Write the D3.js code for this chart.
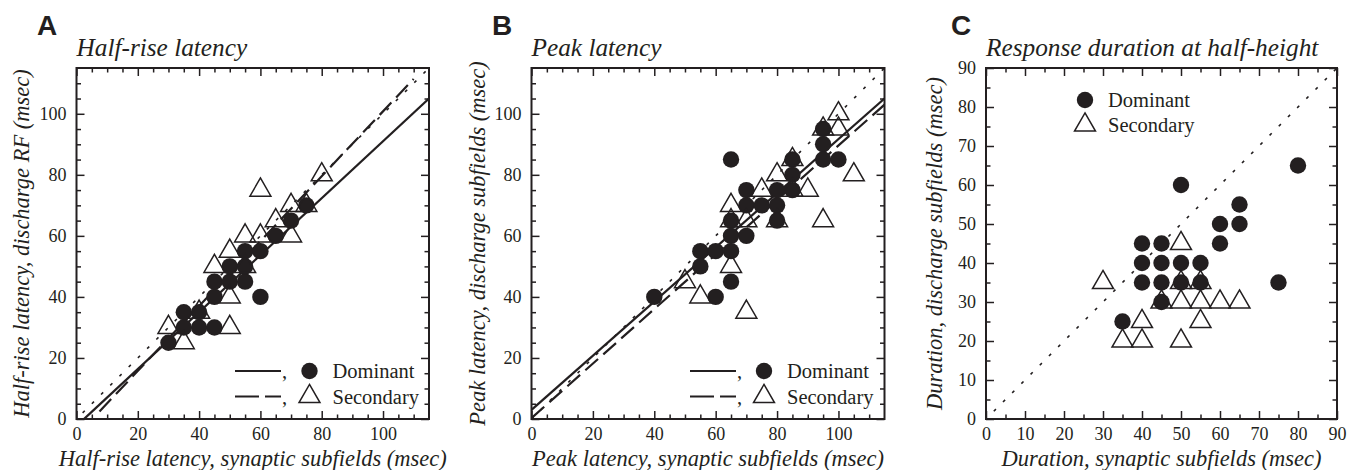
<!DOCTYPE html>
<html>
<head>
<meta charset="utf-8">
<script src="https://cdn.jsdelivr.net/npm/d3@7"></script>
<style>
  body { margin: 0; background: #fff; }
</style>
</head>
<body>
<svg id="fig" width="1348" height="470"></svg>
<script>
// ---- Data (msec): [synaptic subfields, discharge subfields] ----
const halfRiseDominant = [[30,25],[35,35],[35,30],[40,30],[40,35],[45,30],[45,40],[45,45],[50,45],[50,50],
  [55,45],[55,50],[55,55],[60,55],[60,40],[65,60],[70,65],[75,70]];
const halfRiseSecondary = [[30,30],[35,25],[40,35],[45,50],[50,40],[50,30],[50,55],[55,60],[55,50],
  [60,60],[60,75],[65,65],[70,70],[70,60],[75,70],[80,80]];
// regression fits: [slope, intercept, x start, x end]
const halfRiseFitDominant = [0.933, -2.3, 2.5, 115];
const halfRiseFitSecondary = [1.063, -5.5, 7.5, 110];

const peakDominant = [[40,40],[55,55],[55,50],[60,55],[60,40],[65,85],[65,65],[65,60],[65,55],[65,45],
  [70,75],[70,70],[70,60],[75,70],[80,75],[80,70],[80,65],[85,85],[85,80],[85,75],
  [95,95],[95,90],[95,85],[100,85]];
const peakSecondary = [[50,45],[55,40],[65,70],[65,65],[65,50],[70,65],[70,35],[75,75],[80,80],[80,65],
  [85,85],[85,75],[90,75],[95,95],[95,65],[100,100],[100,95],[105,80]];
const peakFitDominant = [0.887, 3.0, 0, 115];
const peakFitSecondary = [0.893, 0.3, 0, 115];

const durationDominant = [[35,25],[40,45],[40,40],[40,35],[45,45],[45,40],[45,35],[45,30],[50,60],[50,40],
  [50,35],[55,40],[55,35],[60,50],[60,45],[65,55],[65,50],[75,35],[80,65]];
const durationSecondary = [[30,35],[35,20],[40,25],[40,20],[45,30],[50,45],[50,35],[50,30],[50,20],
  [55,35],[55,30],[55,25],[60,30],[65,30]];

// unity line extents: [from, to]
const halfRiseUnity = [2, 115];
const peakUnity = [0, 115];
const durationUnity = [2, 90];

// axis tick labels
const latencyTicks = [0, 20, 40, 60, 80, 100];
const durationTicks = [0, 10, 20, 30, 40, 50, 60, 70, 80, 90];

const seriesNames = ["Dominant", "Secondary"];

// ---- Drawing ----
const ink = "#231f20";
const serif = "'Liberation Serif', 'Times New Roman', serif";
const sans = "'Liberation Sans', Arial, sans-serif";
const svg = d3.select("#fig");

function label(sel, size, italic) {
  return sel.style("font-family", serif).style("font-size", size + "px")
    .style("font-style", italic ? "italic" : "normal").style("fill", ink);
}

function drawPanel(p) {
  const x = d3.scaleLinear().domain([0, p.max]).range([p.left, p.right]);
  const y = d3.scaleLinear().domain([0, p.max]).range([p.bottom, p.top]);
  const g = svg.append("g");
  const minors = d3.range(0, p.max, 5).filter(v => p.ticks.indexOf(v) < 0 && v > 0);

  const clipId = "clip-" + p.letter;
  svg.append("clipPath").attr("id", clipId).append("rect")
    .attr("x", p.left).attr("y", p.top)
    .attr("width", p.right - p.left).attr("height", p.bottom - p.top);

  // axes with inward ticks on all four sides
  function axisGroup(axisFn, scale, vals, size, labels, transform, pad) {
    const a = axisFn(scale).tickValues(vals).tickSize(-size).tickSizeOuter(0)
      .tickPadding(pad).tickFormat(labels ? d3.format("d") : "");
    const ag = g.append("g").attr("transform", transform).call(a);
    ag.select(".domain").remove();
    ag.selectAll("line").attr("stroke", ink).attr("stroke-width", 1.5);
    label(ag.selectAll("text"), 18, false);
    return ag;
  }
  const tb = `translate(0,${p.bottom})`, tt = `translate(0,${p.top})`;
  const tl = `translate(${p.left},0)`, tr = `translate(${p.right},0)`;
  axisGroup(d3.axisBottom, x, p.ticks, 8, true, tb, 8);
  axisGroup(d3.axisBottom, x, minors, 4.5, false, tb, 8);
  axisGroup(d3.axisTop, x, p.ticks, 8, false, tt, 8);
  axisGroup(d3.axisTop, x, minors, 4.5, false, tt, 8);
  axisGroup(d3.axisLeft, y, p.ticks, 8, true, tl, 10);
  axisGroup(d3.axisLeft, y, minors, 4.5, false, tl, 10);
  axisGroup(d3.axisRight, y, p.ticks, 8, false, tr, 10);
  axisGroup(d3.axisRight, y, minors, 4.5, false, tr, 10);

  // frame
  g.append("rect").attr("x", p.left).attr("y", p.top)
    .attr("width", p.right - p.left).attr("height", p.bottom - p.top)
    .attr("fill", "none").attr("stroke", ink).attr("stroke-width", 2);

  const line = d3.line().x(d => x(d[0])).y(d => y(d[1]));
  const lines = g.append("g").attr("clip-path", `url(#${clipId})`);

  // unity line
  lines.append("path").attr("d", line([[p.unity[0], p.unity[0]], [p.unity[1], p.unity[1]]]))
    .attr("fill", "none").attr("stroke", ink).attr("stroke-width", 1.6)
    .attr("stroke-dasharray", "3,10");

  // regression lines
  if (p.fits) {
    p.fits.forEach((f, i) => {
      const pts = [[f[2], f[0] * f[2] + f[1]], [f[3], f[0] * f[3] + f[1]]];
      lines.append("path").attr("d", line(pts))
        .attr("fill", "none").attr("stroke", ink).attr("stroke-width", 2.2)
        .attr("stroke-dasharray", i === 0 ? null : "17,7");
    });
  }

  // points: circles then open triangles
  const tri = d3.symbol().type(d3.symbolTriangle).size(190);
  g.append("g").selectAll("circle").data(p.dom).join("circle")
    .attr("cx", d => x(d[0])).attr("cy", d => y(d[1])).attr("r", 8.2).attr("fill", ink);
  g.append("g").selectAll("path").data(p.sec).join("path")
    .attr("d", tri).attr("transform", d => `translate(${x(d[0])},${y(d[1])})`)
    .attr("fill", "none").attr("stroke", ink).attr("stroke-width", 1.5);

  // legend
  const lg = g.append("g");
  seriesNames.forEach((name, i) => {
    const ry = p.legend.y + i * p.legend.dy;
    if (p.fits) {
      lg.append("line").attr("x1", p.legend.lineX).attr("x2", p.legend.lineX + 46)
        .attr("y1", ry).attr("y2", ry).attr("stroke", ink).attr("stroke-width", 2.2)
        .attr("stroke-dasharray", i === 0 ? null : "24,6");
      label(lg.append("text").attr("x", p.legend.lineX + 47).attr("y", ry + 7), 20.5, false).text(",");
    }
    if (i === 0) {
      lg.append("circle").attr("cx", p.legend.markX).attr("cy", ry).attr("r", 8.2).attr("fill", ink);
    } else {
      lg.append("path").attr("d", tri).attr("transform", `translate(${p.legend.markX},${ry})`)
        .attr("fill", "none").attr("stroke", ink).attr("stroke-width", 1.5);
    }
    label(lg.append("text").attr("x", p.legend.markX + 23).attr("y", ry + 7), 20.5, false).text(name);
  });

  // titles
  label(g.append("text").attr("x", p.left).attr("y", 56), 25.3, true).text(p.title);
  label(g.append("text").attr("x", (p.left + p.right) / 2).attr("y", 465.5)
    .attr("text-anchor", "middle"), 22.5, true).text(p.xTitle);
  label(g.append("text")
    .attr("transform", `translate(${p.yTitleX},${(p.top + p.bottom) / 2}) rotate(-90)`)
    .attr("text-anchor", "middle"), 22.5, true).text(p.yTitle);
  g.append("text").attr("x", p.letterX).attr("y", 35)
    .style("font-family", sans).style("font-weight", "bold").style("font-size", "28px")
    .style("fill", ink).text(p.letter);
}

drawPanel({
  letter: "A", letterX: 37, left: 76.5, right: 429, top: 68, bottom: 419, max: 115,
  ticks: latencyTicks, dom: halfRiseDominant, sec: halfRiseSecondary,
  fits: [halfRiseFitDominant, halfRiseFitSecondary], unity: halfRiseUnity,
  title: "Half-rise latency",
  xTitle: "Half-rise latency, synaptic subfields (msec)",
  yTitle: "Half-rise latency, discharge RF (msec)", yTitleX: 28.5,
  legend: { lineX: 235, markX: 309.5, y: 371, dy: 25.5 }
});

drawPanel({
  letter: "B", letterX: 492, left: 531.5, right: 884.5, top: 68, bottom: 419, max: 115,
  ticks: latencyTicks, dom: peakDominant, sec: peakSecondary,
  fits: [peakFitDominant, peakFitSecondary], unity: peakUnity,
  title: "Peak latency",
  xTitle: "Peak latency, synaptic subfields (msec)",
  yTitle: "Peak latency, discharge subfields (msec)", yTitleX: 485,
  legend: { lineX: 690, markX: 764, y: 371, dy: 25.5 }
});

drawPanel({
  letter: "C", letterX: 951, left: 986, right: 1337, top: 68, bottom: 419, max: 90,
  ticks: durationTicks, dom: durationDominant, sec: durationSecondary,
  fits: null, unity: durationUnity,
  title: "Response duration at half-height",
  xTitle: "Duration, synaptic subfields (msec)",
  yTitle: "Duration, discharge subfields (msec)", yTitleX: 942,
  legend: { markX: 1085, y: 100, dy: 25 }
});
</script>
</body>
</html>
